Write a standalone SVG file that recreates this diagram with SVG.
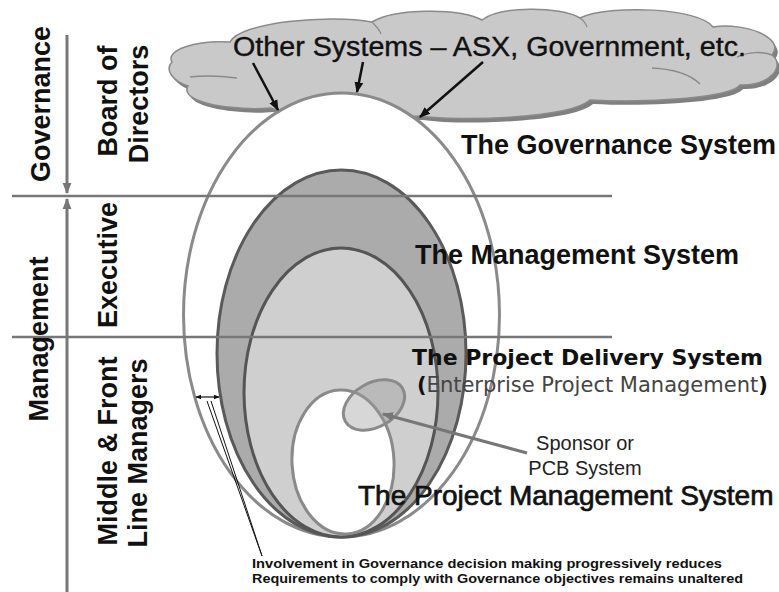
<svg xmlns="http://www.w3.org/2000/svg" width="779" height="592" viewBox="0 0 779 592">
<style>
.sans{font-family:"Liberation Sans",Arial,sans-serif;}
.dv{font-family:"DejaVu Sans",Verdana,sans-serif;}
.big{font-size:27px;font-weight:bold;fill:#111;}
.rot{font-size:27px;font-weight:bold;fill:#111;text-anchor:middle;}
.band{stroke:#777;stroke-width:2.5;fill:none;}
.garrow{stroke:#777;stroke-width:3;fill:none;}
.barrow{stroke:#111;stroke-width:2.5;fill:none;}
</style>
<defs>
<marker id="ah-black" viewBox="0 0 10 10" refX="9" refY="5" markerWidth="11" markerHeight="11" markerUnits="userSpaceOnUse" orient="auto"><path d="M0,1 L10,5 L0,9 z" fill="#111"/></marker>
<marker id="ah-gray" viewBox="0 0 10 10" refX="9" refY="5" markerWidth="11" markerHeight="11" markerUnits="userSpaceOnUse" orient="auto"><path d="M0,1 L10,5 L0,9 z" fill="#777"/></marker>
<marker id="ah-small" viewBox="0 0 10 10" refX="9" refY="5" markerWidth="6" markerHeight="6" markerUnits="userSpaceOnUse" orient="auto-start-reverse"><path d="M0,1 L10,5 L0,9 z" fill="#111"/></marker>
<path id="cloudshape" d="M172,62 C165,50 196,40 230,42 C240,22 330,14 372,22 C395,8 460,8 482,20 C500,6 560,6 580,18 C610,4 700,8 713,27 C745,22 786,38 772,55 C786,66 770,86 740,85 C730,98 650,103 590,100 C570,118 460,122 420,116 C380,119 300,116 270,108 C240,111 178,104 188,86 C174,82 164,70 172,62 Z"/>
</defs>

<g id="cloud">
<use href="#cloudshape" transform="translate(3,4)" fill="#808080"/>
<use href="#cloudshape" fill="#c9c9c9" stroke="#8a8a8a" stroke-width="1.5"/>
<path d="M190,77 C205,75 222,76 237,78" fill="none" stroke="#8a8a8a" stroke-width="1.5"/>
<path d="M652,68 C672,69 690,74 700,84" fill="none" stroke="#8a8a8a" stroke-width="1.5"/>
<path d="M737,57 C748,52 762,51 772,55" fill="none" stroke="#8a8a8a" stroke-width="1.5"/>
<path d="M372,22 C376,26 380,30 381,34" fill="none" stroke="#8a8a8a" stroke-width="1.2"/>
<path d="M580,18 C584,21 586,24 587,27" fill="none" stroke="#8a8a8a" stroke-width="1.2"/>
<text class="sans" x="233" y="56" font-size="27" fill="#111" stroke="#111" stroke-width="0.4" textLength="513" lengthAdjust="spacingAndGlyphs">Other Systems – ASX, Government, etc.</text>
</g>

<g id="governance-system">
<ellipse cx="341.5" cy="315" rx="158" ry="222" fill="#fff" stroke="#8a8a8a" stroke-width="3"/>
</g>
<g id="management-system">
<ellipse cx="341.5" cy="353.5" rx="124.5" ry="183.5" fill="#ababab" stroke="#5a5a5a" stroke-width="3"/>
</g>
<g id="project-delivery-system">
<ellipse cx="341" cy="392.5" rx="97" ry="144.5" fill="#cfcfcf" stroke="#555" stroke-width="3"/>
</g>
<g id="project-management-system">
<ellipse cx="343" cy="462" rx="51" ry="72" transform="rotate(-3 343 462)" fill="#fff" stroke="#8a8a8a" stroke-width="3"/>
</g>
<g id="sponsor-system">
<ellipse cx="374" cy="405" rx="33" ry="22" transform="rotate(-30 374 405)" fill="#9a9a9a" fill-opacity="0.4" stroke="#8a8a8a" stroke-width="3"/>
</g>

<g id="bands">
<line class="band" x1="12" y1="196" x2="612" y2="196"/>
<line class="band" x1="12" y1="337" x2="612" y2="337"/>
</g>

<g id="connectors">
<line class="garrow" x1="67" y1="35" x2="67" y2="193" marker-end="url(#ah-gray)"/>
<line class="garrow" x1="67" y1="592" x2="67" y2="199" marker-end="url(#ah-gray)"/>
<line class="barrow" x1="253" y1="63" x2="278" y2="110" marker-end="url(#ah-black)"/>
<line class="barrow" x1="363" y1="62" x2="357" y2="92" marker-end="url(#ah-black)"/>
<line class="barrow" x1="483" y1="62" x2="420" y2="117" marker-end="url(#ah-black)"/>
<line class="garrow" x1="527" y1="453" x2="383" y2="414" marker-end="url(#ah-gray)"/>
<line x1="196" y1="397" x2="219" y2="397" stroke="#111" stroke-width="1.2" marker-start="url(#ah-small)" marker-end="url(#ah-small)"/>
<line x1="262" y1="556" x2="207" y2="401" stroke="#111" stroke-width="1"/>
<line x1="262" y1="556" x2="211" y2="401" stroke="#111" stroke-width="1"/>
</g>

<g id="left-labels">
<text class="sans rot" transform="translate(50,104) rotate(-90)">Governance</text>
<text class="sans rot" transform="translate(117,101) rotate(-90)">Board of</text>
<text class="sans rot" transform="translate(148,104) rotate(-90)">Directors</text>
<text class="sans rot" transform="translate(48,339) rotate(-90)">Management</text>
<text class="sans rot" transform="translate(117,265) rotate(-90)">Executive</text>
<text class="sans rot" transform="translate(117,451) rotate(-90)">Middle &amp; Front</text>
<text class="sans rot" transform="translate(147,453) rotate(-90)">Line Managers</text>
</g>

<g id="system-labels">
<text class="sans big" x="461" y="154">The Governance System</text>
<text class="sans big" x="415" y="264">The Management System</text>
<text class="dv" x="412" y="365" font-size="22" font-weight="bold" fill="#111">The Project Delivery System</text>
<text class="dv" x="417" y="392" font-size="21" fill="#444"><tspan font-weight="bold" fill="#111">(</tspan>Enterprise Project Management<tspan font-weight="bold" fill="#111">)</tspan></text>
<text class="sans" x="585" y="450" font-size="20" fill="#222" text-anchor="middle">Sponsor or</text>
<text class="sans" x="585" y="475" font-size="20" fill="#222" text-anchor="middle">PCB System</text>
<text class="sans" x="358" y="505" font-size="28" fill="#111" stroke="#111" stroke-width="0.7">The Project Management System</text>
<text class="sans" x="252" y="568" font-size="13" font-weight="bold" fill="#111" textLength="470" lengthAdjust="spacingAndGlyphs">Involvement in Governance decision making progressively reduces</text>
<text class="sans" x="252" y="583" font-size="13" font-weight="bold" fill="#111" textLength="491" lengthAdjust="spacingAndGlyphs">Requirements to comply with Governance objectives remains unaltered</text>
</g>
</svg>
